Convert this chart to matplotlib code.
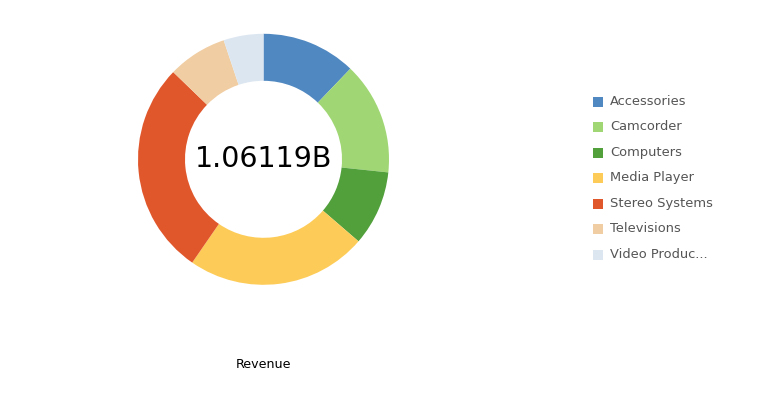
import matplotlib
matplotlib.use("Agg")
import matplotlib.pyplot as plt
from matplotlib.patches import Rectangle

# revenue by category, in millions
categories = ["Accessories", "Camcorder", "Computers", "Media Player",
              "Stereo Systems", "Televisions", "Video Produc..."]
revenue = [129.1, 153.9, 102.6, 247.0, 293.0, 81.1, 54.5]
colors = ["#5088c1", "#a0d774", "#51a03c", "#fdcc58",
          "#e1572c", "#f0cda2", "#dce6f1"]
total_label = "1.06119B"
axis_title = "Revenue"

W, H = 768, 407
fig = plt.figure(figsize=(W / 100, H / 100), dpi=100)
ax = fig.add_axes([0, 0, 1, 1])

# work in pixel units, y measured up from the bottom
cx, cy, R = 263.5, H - 159.3, 125.5
ax.pie(revenue, colors=colors, startangle=90, counterclock=False,
       center=(cx, cy), radius=R,
       wedgeprops=dict(width=47, linewidth=0))
ax.set_xlim(0, W)
ax.set_ylim(0, H)
ax.set_aspect("equal")
ax.axis("off")

ax.text(cx, cy, total_label, ha="center", va="center",
        fontsize=20.5, color="black")
ax.text(cx, H - 364, axis_title, ha="center", va="center",
        fontsize=9.1, color="black")

# legend
y0, dy = 101.5, 25.5
for i, (name, c) in enumerate(zip(categories, colors)):
    y = H - (y0 + i * dy)
    ax.add_patch(Rectangle((593, y - 5), 10, 10, color=c, lw=0))
    ax.text(610, y, name, ha="left", va="center", fontsize=9.4,
            color="#555555")

fig.savefig("out.png", dpi=100)
